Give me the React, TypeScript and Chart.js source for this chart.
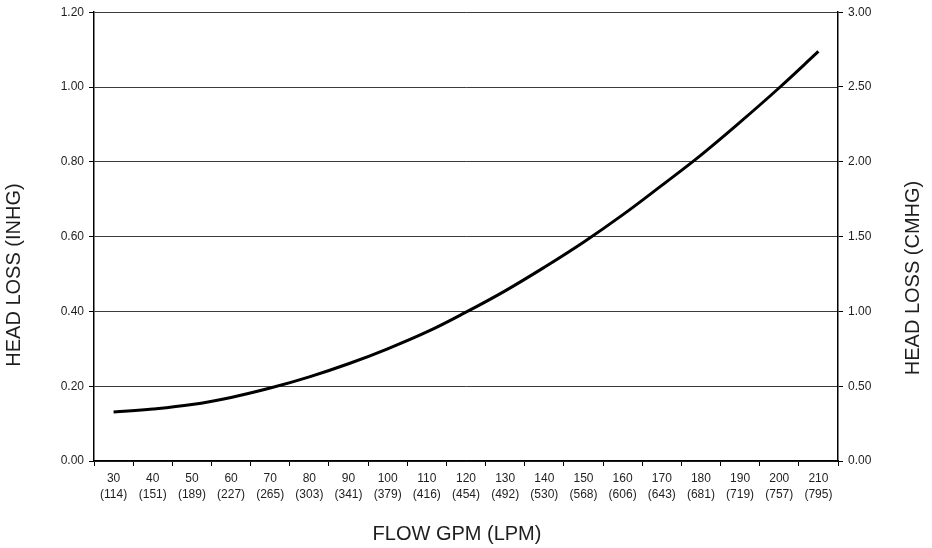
import React, { useEffect, useRef } from 'react';
import { Chart, registerables } from 'chart.js';

Chart.register(...registerables);

// ---- data ----
const flowGpm: string[] = ['30', '40', '50', '60', '70', '80', '90', '100', '110', '120', '130', '140', '150', '160', '170', '180', '190', '200', '210'];
const flowLpm: string[] = ['(114)', '(151)', '(189)', '(227)', '(265)', '(303)', '(341)', '(379)', '(416)', '(454)', '(492)', '(530)', '(568)', '(606)', '(643)', '(681)', '(719)', '(757)', '(795)'];
const headLossInHg: number[] = [0.131, 0.139, 0.151, 0.170, 0.195, 0.225, 0.260, 0.300, 0.345, 0.398, 0.455, 0.518, 0.585, 0.658, 0.737, 0.818, 0.906, 0.998, 1.095];

const leftAxisMax = 1.2;
const leftAxisStep = 0.2;
const rightAxisMax = 3.0;
const rightAxisStep = 0.5;

const xTitle = 'FLOW GPM (LPM)';
const leftTitle = 'HEAD LOSS (INHG)';
const rightTitle = 'HEAD LOSS (CMHG)';

const FONT = '"Liberation Sans", Arial, Helvetica, sans-serif';
const TEXT = '#1e1e1e';

const titlesPlugin = {
  id: 'axisTitles',
  afterDraw(chart: any) {
    const ctx = chart.ctx as CanvasRenderingContext2D;
    ctx.save();
    ctx.fillStyle = TEXT;
    ctx.font = `20px ${FONT}`;
    ctx.textAlign = 'center';
    ctx.textBaseline = 'middle';
    ctx.fillText(xTitle, 457, 534);
    ctx.save();
    ctx.translate(14.5, 275);
    ctx.rotate(-Math.PI / 2);
    ctx.fillText(leftTitle, 0, 0);
    ctx.restore();
    ctx.save();
    ctx.translate(913, 278);
    ctx.rotate(-Math.PI / 2);
    ctx.fillText(rightTitle, 0, 0);
    ctx.restore();
    ctx.restore();
  },
};

export default function App() {
  const canvasRef = useRef<HTMLCanvasElement | null>(null);

  useEffect(() => {
    if (!canvasRef.current) return;
    const labels = flowGpm.map((g, i) => [g, flowLpm[i]]);
    const tickFont = { family: FONT, size: 12, lineHeight: 1.35 };
    const chart = new Chart(canvasRef.current, {
      type: 'line',
      data: {
        labels,
        datasets: [
          {
            data: headLossInHg,
            borderColor: '#000',
            borderWidth: 3,
            pointRadius: 0,
            tension: 0.4,
            fill: false,
            yAxisID: 'y',
          },
        ],
      },
      options: {
        animation: false,
        responsive: true,
        maintainAspectRatio: false,
        layout: { padding: { top: 11, left: 0, right: 0, bottom: 0 } },
        plugins: { legend: { display: false }, tooltip: { enabled: false } },
        scales: {
          x: {
            type: 'category',
            offset: true,
            grid: { offset: true, drawOnChartArea: false, tickLength: 5, tickColor: '#000', lineWidth: 1 },
            border: { color: '#000', width: 1.5 },
            ticks: { font: tickFont, color: TEXT, padding: 4.6, maxRotation: 0, minRotation: 0, autoSkip: false },
            afterFit: (s: any) => { s.height = 87; },
          },
          y: {
            position: 'left',
            min: 0,
            max: leftAxisMax,
            ticks: {
              stepSize: leftAxisStep,
              padding: 5,
              font: { family: FONT, size: 12 },
              color: TEXT,
              callback: (v: any) => Number(v).toFixed(2),
            },
            grid: { color: '#3a3a3a', lineWidth: 1, tickColor: '#000', tickLength: 5 },
            border: { color: '#000', width: 1.5 },
            afterFit: (s: any) => { s.width = 94; },
          },
          y2: {
            position: 'right',
            min: 0,
            max: rightAxisMax,
            ticks: {
              stepSize: rightAxisStep,
              padding: 5,
              font: { family: FONT, size: 12 },
              color: TEXT,
              callback: (v: any) => Number(v).toFixed(2),
            },
            grid: { drawOnChartArea: false, tickColor: '#000', tickLength: 5 },
            border: { color: '#000', width: 1.5 },
            afterFit: (s: any) => { s.width = 94; },
          },
        },
      } as any,
      plugins: [titlesPlugin],
    });
    return () => chart.destroy();
  }, []);

  return (
    <div style={{ position: 'fixed', left: 0, top: 0, width: 932, height: 548, background: '#fff' }}>
      <canvas ref={canvasRef} />
    </div>
  );
}
